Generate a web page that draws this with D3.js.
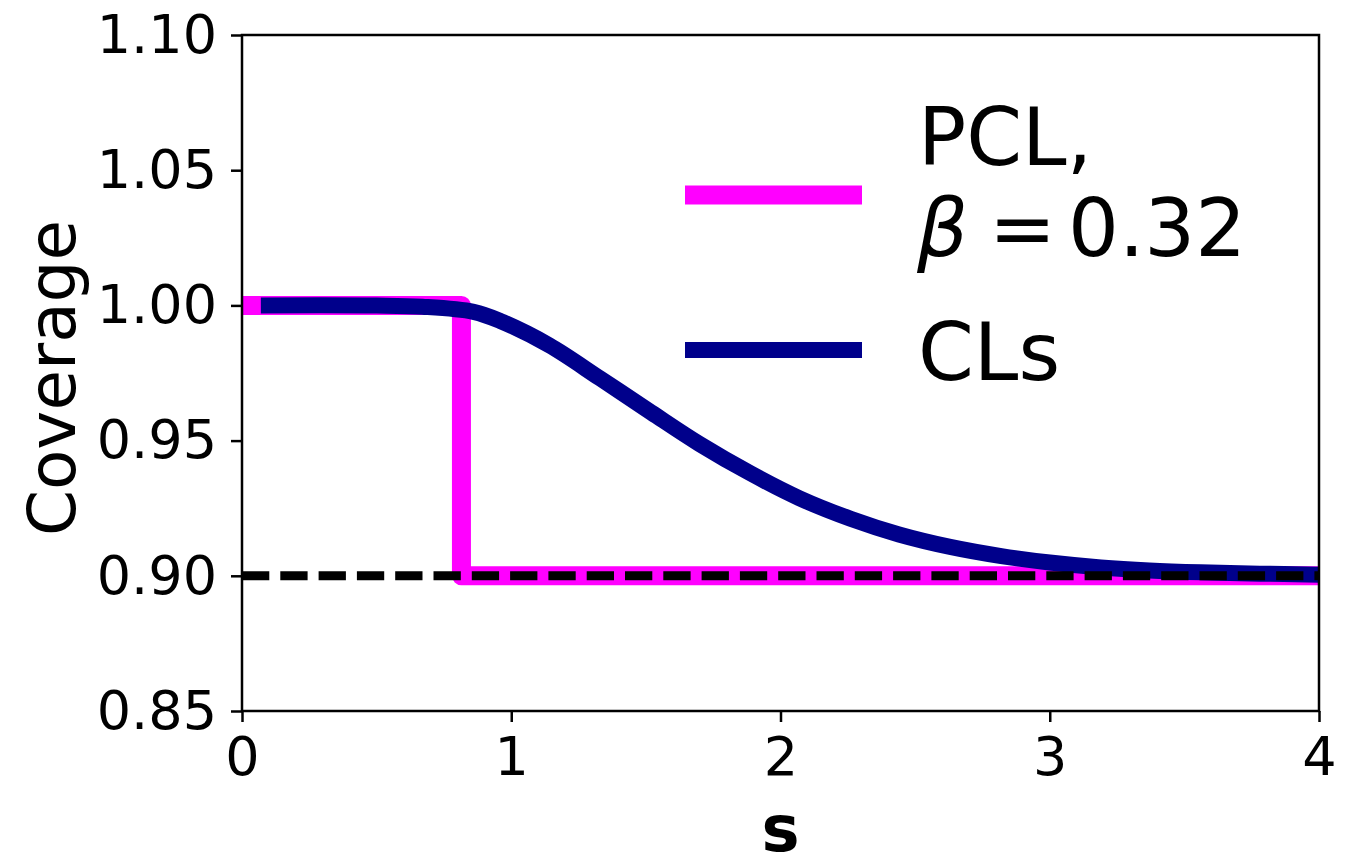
<!DOCTYPE html>
<html>
<head>
<meta charset="utf-8">
<script src="https://cdn.jsdelivr.net/npm/d3@7"></script>
<style>
  body { margin: 0; background: #fff; }
  svg { display: block; }
  text { font-family: "DejaVu Sans", sans-serif; fill: #000; }
</style>
</head>
<body>
<svg id="chart" width="1356" height="856"></svg>
<script>
// Coverage of the PCL interval (beta = 0.32): a step at the power-constraint threshold
const pclS = [0, 0.815, 0.815, 4];
const pclCoverage = [1.0, 1.0, 0.9, 0.9];

// Coverage of the CLs interval as a function of the signal strength s
const clsS = [0.07, 0.50, 0.67, 0.86, 0.96, 1.14, 1.33, 1.52, 1.70, 1.89, 2.07, 2.26, 2.44, 2.63, 2.82, 3.00, 3.19, 3.37, 3.56, 3.78, 4.00];
const clsCoverage = [1.0000, 0.99995, 0.9995, 0.9976, 0.9942, 0.9853, 0.9730, 0.9604, 0.9487, 0.9378, 0.9287, 0.9211, 0.9153, 0.9107, 0.9073, 0.9049, 0.9031, 0.9020, 0.9013, 0.9008, 0.9004];

// Nominal confidence level
const nominalCoverage = 0.9;

const xTicks = [0, 1, 2, 3, 4];
const yTicks = [0.85, 0.90, 0.95, 1.00, 1.05, 1.10];
const xDomain = [0, 4];
const yDomain = [0.85, 1.10];

const seriesNames = ["PCL", "CLs"];
const seriesColors = ["#ff00ff", "#00008b"];

const W = 1356, H = 856;
const plot = { left: 242, right: 1319, top: 35, bottom: 711 };

const svg = d3.select("#chart");
svg.append("rect").attr("width", W).attr("height", H).attr("fill", "#fff");

const x = d3.scaleLinear().domain(xDomain).range([plot.left, plot.right]);
const y = d3.scaleLinear().domain(yDomain).range([plot.bottom, plot.top]);

const line = d3.line().x(d => x(d[0])).y(d => y(d[1]));
const smooth = d3.line().x(d => x(d[0])).y(d => y(d[1])).curve(d3.curveCatmullRom.alpha(0.5));

const marks = svg.append("g");

// PCL step curve
marks.append("path")
  .datum(d3.zip(pclS, pclCoverage))
  .attr("d", line)
  .attr("fill", "none")
  .attr("stroke", seriesColors[0])
  .attr("stroke-width", 19)
  .attr("stroke-linejoin", "round")
  .attr("stroke-linecap", "butt");

// CLs curve
marks.append("path")
  .datum(d3.zip(clsS, clsCoverage))
  .attr("d", smooth)
  .attr("fill", "none")
  .attr("stroke", seriesColors[1])
  .attr("stroke-width", 16)
  .attr("stroke-linejoin", "round")
  .attr("stroke-linecap", "butt");

// Nominal coverage reference line
marks.append("path")
  .datum([[xDomain[0], nominalCoverage], [xDomain[1], nominalCoverage]])
  .attr("d", line)
  .attr("fill", "none")
  .attr("stroke", "#000")
  .attr("stroke-width", 9)
  .attr("stroke-dasharray", "27.3 11")
  .attr("stroke-linecap", "butt");

// Axes
const yAxis = d3.axisLeft(y).tickValues(yTicks).tickFormat(d3.format(".2f"))
  .tickSize(11).tickPadding(14);
const xAxis = d3.axisBottom(x).tickValues(xTicks).tickFormat(d3.format("d"))
  .tickSize(11).tickPadding(15);

const gy = svg.append("g").attr("transform", `translate(${plot.left},0)`).call(yAxis);
const gx = svg.append("g").attr("transform", `translate(0,${plot.bottom})`).call(xAxis);
[gx, gy].forEach(g => {
  g.selectAll("path.domain").remove();
  g.selectAll(".tick line").attr("stroke", "#000").attr("stroke-width", 2.5);
  g.selectAll(".tick text").attr("font-size", 54).attr("font-family", "DejaVu Sans").attr("fill", "#000");
});

// Frame
svg.append("rect")
  .attr("x", plot.left).attr("y", plot.top)
  .attr("width", plot.right - plot.left).attr("height", plot.bottom - plot.top)
  .attr("fill", "none").attr("stroke", "#000").attr("stroke-width", 2.5);

// Axis titles
svg.append("text")
  .attr("transform", `translate(75,${(plot.top + plot.bottom) / 2 + 5}) rotate(-90)`)
  .attr("text-anchor", "middle")
  .attr("font-size", 66)
  .text("Coverage");

svg.append("text")
  .attr("x", (plot.left + plot.right) / 2)
  .attr("y", 851)
  .attr("text-anchor", "middle")
  .attr("font-size", 64)
  .attr("font-weight", "bold")
  .text("s");

// Legend
const legend = svg.append("g");
const handleX = [685, 862];
const handleY = [195, 350];
legend.selectAll("line.handle")
  .data(seriesNames)
  .join("line")
  .attr("class", "handle")
  .attr("x1", handleX[0]).attr("x2", handleX[1])
  .attr("y1", (d, i) => handleY[i]).attr("y2", (d, i) => handleY[i])
  .attr("stroke", (d, i) => seriesColors[i])
  .attr("stroke-width", (d, i) => i === 0 ? 19 : 16);

const legendFont = 80;
legend.append("text").attr("x", 918).attr("y", 165).attr("font-size", legendFont).text("PCL,");
const beta = legend.append("text").attr("y", 256).attr("font-size", legendFont);
beta.append("tspan").attr("x", 917).attr("font-style", "italic").text("β");
beta.append("tspan").attr("x", 989).text("=");
beta.append("tspan").attr("x", 1068).text("0.32");
legend.append("text").attr("x", 918).attr("y", 380).attr("font-size", legendFont).text("CLs");
</script>
</body>
</html>
